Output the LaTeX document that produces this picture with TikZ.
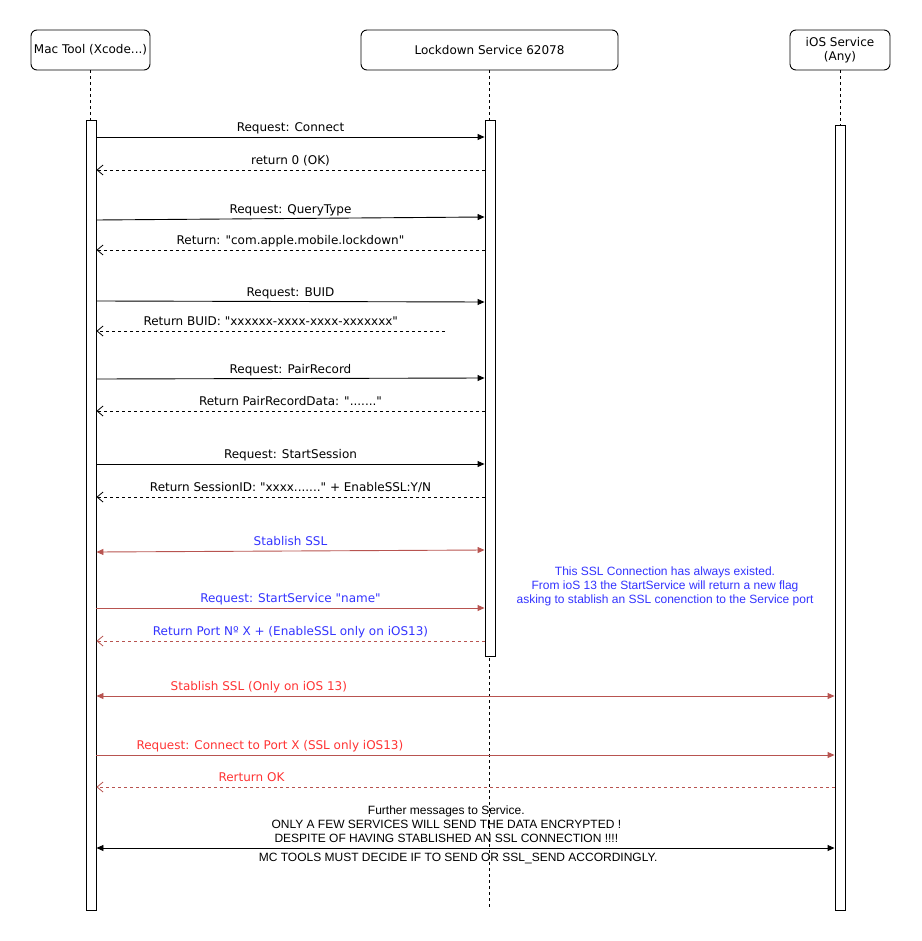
\documentclass[tikz,border=0pt]{standalone}
\usepackage{fontspec}
\setmainfont{DejaVu Sans}[Ligatures=TeXOff]
\newfontfamily\notefont{Liberation Sans}[Ligatures=TeXOff]
\usetikzlibrary{arrows.meta, positioning}
\definecolor{sslred}{HTML}{B85450}
\definecolor{noteblue}{HTML}{3333FF}
\definecolor{labelred}{HTML}{FF3333}
\tikzset{
  head/.style={draw, rounded corners=6pt, line width=0.9pt, fill=white, align=center, minimum height=40pt, inner sep=0pt, font=\fontsize{12}{14}\selectfont},
  bar/.style={draw, fill=white, line width=0.9pt, minimum width=10pt, inner sep=0pt},
  lifeline/.style={line width=0.8pt, dash pattern=on 3pt off 3pt},
  req/.style={-{Triangle[length=7pt, width=6pt]}, line width=0.9pt},
  ret/.style={-{Straight Barb[length=6pt, width=10pt]}, line width=0.8pt, dash pattern=on 3pt off 3pt},
  sslreq/.style={req, sslred},
  sslret/.style={ret, sslred},
  ssl/.style={{Triangle[length=7pt, width=6pt]}-{Triangle[length=7pt, width=6pt]}, line width=0.9pt, sslred},
  both/.style={{Triangle[length=7pt, width=6pt]}-{Triangle[length=7pt, width=6pt]}, line width=0.9pt},
  lbl/.style={above, inner sep=2pt, text height=9pt, text depth=3pt, text=black, font=\fontsize{12}{14}\selectfont},
  note/.style={align=center, font=\notefont\fontsize{12}{14}\selectfont}
}
\begin{document}
\begin{tikzpicture}[x=1pt, y=-1pt]
    \useasboundingbox (0,0) rectangle (921,941);
    % participants
    \node[head, minimum width=119pt] (mac) at (90.5,50) {Mac Tool (Xcode...)};
    \node[head, minimum width=257pt] (lockdown) at (489.5,50) {Lockdown Service 62078};
    \node[head, minimum width=100pt] (ios) at (840,50) {iOS Service\\(Any)};

    % lifelines
    \draw[lifeline] (mac.south) -- (mac.south |- 0,908);
    \draw[lifeline] (lockdown.south) -- (lockdown.south |- 0,908);
    \draw[lifeline] (ios.south) -- (ios.south |- 0,908);

    % activations
    \node[bar, minimum height=790pt] (macbar) at (91,515) {};
    \node[bar, minimum height=536pt] (lockbar) at (490,388) {};
    \node[bar, minimum height=785pt] (iosbar) at (840,517.5) {};

    % lockdown handshake
    \draw[req] (macbar.east |- 0,137) -- node[lbl] {Request: Connect} (lockbar.west |- 0,137);
    \draw[ret] (lockbar.west |- 0,170) -- node[lbl] {return 0 (OK)} (macbar.east |- 0,170);
    \draw[req] (macbar.east |- 0,220) -- node[lbl] {Request: QueryType} (lockbar.west |- 0,217);
    \draw[ret] (lockbar.west |- 0,250) -- node[lbl] {Return: "com.apple.mobile.lockdown"} (macbar.east |- 0,250);
    \draw[req] (macbar.east |- 0,301) -- node[lbl] {Request: BUID} (lockbar.west |- 0,302);
    \coordinate (buidend) at (445,331);
    \draw[ret] (buidend) -- node[lbl] {Return BUID: "xxxxxx-xxxx-xxxx-xxxxxxx"} (macbar.east |- buidend);
    \draw[req] (macbar.east |- 0,379) -- node[lbl] {Request: PairRecord} (lockbar.west |- 0,378);
    \draw[ret] (lockbar.west |- 0,411) -- node[lbl] {Return PairRecordData: "......."} (macbar.east |- 0,411);
    \draw[req] (macbar.east |- 0,464) -- node[lbl] {Request: StartSession} (lockbar.west |- 0,464);
    \draw[ret] (lockbar.west |- 0,497) -- node[lbl] {Return SessionID: "xxxx......." + EnableSSL:Y/N} (macbar.east |- 0,497);

    % ssl with lockdown
    \draw[ssl] (macbar.east |- 0,552) -- node[lbl, text=noteblue] {Stablish SSL} (lockbar.west |- 0,550);
    \draw[sslreq] (macbar.east |- 0,608) -- node[lbl, text=noteblue] {Request: StartService "name"} (lockbar.west |- 0,608);
    \draw[sslret] (lockbar.west |- 0,641) -- node[lbl, text=noteblue] {Return Port Nº X + (EnableSSL only on iOS13)} (macbar.east |- 0,641);
    \node[note, text=noteblue] (sslnote) at (665,586) {This SSL Connection has always existed.\\From ioS 13 the StartService will return a new flag\\asking to stablish an SSL conenction to the Service port};

    % service connection
    \draw[ssl] (macbar.east |- 0,696) -- node[lbl, pos=0.22, text=labelred] {Stablish SSL (Only on iOS 13)} (iosbar.west |- 0,696);
    \draw[sslreq] (macbar.east |- 0,755) -- node[lbl, pos=0.235, text=labelred] {Request: Connect to Port X (SSL only iOS13)} (iosbar.west |- 0,755);
    \draw[sslret] (iosbar.west |- 0,787) -- node[lbl, pos=0.79, text=labelred] {Rerturn OK} (macbar.east |- 0,787);
    \draw[both] (macbar.east |- 0,848) -- node[above, pos=0.474, inner sep=2pt, yshift=3pt, note] {Further messages to Service.\\ONLY A FEW SERVICES WILL SEND THE DATA ENCRYPTED !\\DESPITE OF HAVING STABLISHED AN SSL CONNECTION !!!!}
        node[below, pos=0.49, inner sep=2pt, yshift=-3pt, note] {MC TOOLS MUST DECIDE IF TO SEND OR SSL\_SEND ACCORDINGLY.} (iosbar.west |- 0,848);
\end{tikzpicture}
\end{document}
